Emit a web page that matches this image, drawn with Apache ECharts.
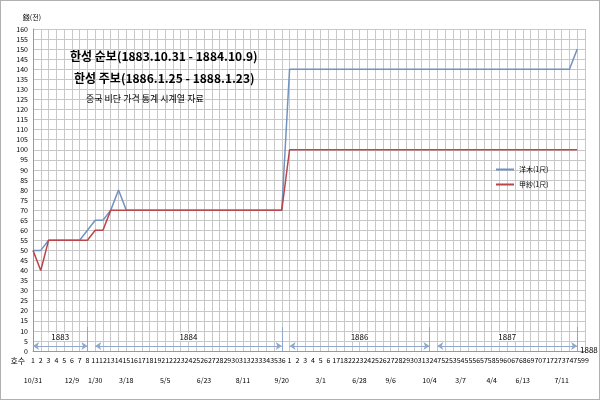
<!DOCTYPE html>
<html>
<head>
<meta charset="utf-8">
<script src="https://cdn.jsdelivr.net/npm/echarts@6/dist/echarts.min.js"></script>
<style>
	html,body{margin:0;padding:0;background:#fff;}
	#chart{width:598px;height:398px;border:1px solid #b0b0b0;}
</style>
</head>
<body>
<div id="chart"></div>
<script>
	// issue numbers (호수)
	var issues = ['1','2','3','4','5','6','7','8','11','12','13','14','15','16','17','18','19','21','22','23','24','25','26','27','28','29','30','31','32','33','34','35','36',
		'1','2','3','4','5','6','17','18','22','23','24','25','26','27','28','29','30','31','32','47','52','53','54','55','56','57','58','59','60','67','68','69','70','71','72','73','74','75','99'];
	var dateLabels = {0:'10/31',5:'12/9',8:'1/30',12:'3/18',17:'5/5',22:'6/23',27:'8/11',32:'9/20',37:'3/1',42:'6/28',46:'9/6',51:'10/4',55:'3/7',59:'4/4',63:'6/13',68:'7/11',72:'1/23'};
	var cotton = [50,50,55,55,55,55,55,60,65,65,70,80,70,70,70,70,70,70,70,70,70,70,70,70,70,70,70,70,70,70,70,70,70,
		140,140,140,140,140,140,140,140,140,140,140,140,140,140,140,140,140,140,140,140,140,140,140,140,140,140,140,140,140,140,140,140,140,140,140,140,140,150];
	var gapsa = [50,40,55,55,55,55,55,55,60,60,70,70,70,70,70,70,70,70,70,70,70,70,70,70,70,70,70,70,70,70,70,70,70,
		100,100,100,100,100,100,100,100,100,100,100,100,100,100,100,100,100,100,100,100,100,100,100,100,100,100,100,100,100,100,100,100,100,100,100,100,100,100];
	var years = [['1883',0,7],['1884',8,32],['1886',33,51],['1887',52,70]];
	var dividers = [7,32,51,70];

	var yearLines = [];
	years.forEach(function(y){
		yearLines.push([{coord:[y[1],2.5],symbol:'arrow'},{coord:[y[2],2.5],symbol:'arrow',label:{show:true,formatter:y[0]}}]);
	});
	dividers.forEach(function(d){
		yearLines.push([{coord:[d,0],symbol:'none'},{coord:[d,12],symbol:'none',label:{show:false}}]);
	});

	var chart = echarts.init(document.getElementById('chart'));
	chart.setOption({
		animation:false,
		textStyle:{fontFamily:'Noto Sans CJK KR'},
		title:[
			{text:'한성 순보(1883.10.31 - 1884.10.9)',left:64,top:44,textStyle:{fontSize:12,fontWeight:'bold',color:'#000'}},
			{text:'한성 주보(1886.1.25 - 1888.1.23)',left:68,top:66,textStyle:{fontSize:12,fontWeight:'bold',color:'#000'}},
			{text:'중국 비단 가격 통계 시계열 자료',left:80,top:88,textStyle:{fontSize:9,fontWeight:'normal',color:'#000'}},
			{text:'1888',left:574,top:340,textStyle:{fontSize:8,fontWeight:'normal',color:'#000'}}
		],
		legend:{orient:'vertical',left:490,top:160,itemWidth:18,itemHeight:2,itemGap:8,icon:'rect',
			textStyle:{fontSize:7,color:'#000'},data:['洋木(1尺)','甲紗(1尺)']},
		grid:{left:32,right:14,top:28,bottom:48},
		xAxis:[{
			type:'category',data:issues,boundaryGap:false,
			name:'호수',nameLocation:'start',nameGap:6,nameTextStyle:{fontSize:8,color:'#000',verticalAlign:'top',padding:[6,0,0,0]},
			axisLine:{lineStyle:{color:'#999'}},axisTick:{show:false},
			axisLabel:{interval:0,fontSize:7,color:'#000',margin:6,hideOverlap:false},
			splitLine:{show:true,interval:0,lineStyle:{color:'#c8c8c8'}}
		},{
			type:'category',data:issues,boundaryGap:false,position:'bottom',offset:18,
			axisLine:{show:false},axisTick:{show:false},
			axisLabel:{interval:0,fontSize:7,color:'#000',hideOverlap:false,showMaxLabel:true,showMinLabel:true,
				formatter:function(v,i){return dateLabels[i]||'';}}
		}],
		yAxis:{
			type:'value',min:0,max:160,interval:5,
			name:'錢(전)',nameGap:8,nameTextStyle:{fontSize:7,color:'#000',align:'right',padding:[0,-8,0,0]},
			axisLine:{show:true,lineStyle:{color:'#999'}},axisTick:{show:false},
			axisLabel:{fontSize:7,color:'#000',margin:5},
			splitLine:{lineStyle:{color:'#c8c8c8'}}
		},
		series:[{
			name:'洋木(1尺)',type:'line',data:cotton,symbol:'none',
			lineStyle:{color:'#7393bf',width:1.5},itemStyle:{color:'#7393bf'},
			markLine:{silent:true,symbolSize:6,lineStyle:{color:'#8fa8cc',type:'solid',width:1},
				label:{position:'middle',fontSize:8,color:'#000',backgroundColor:'#fff',padding:[0,3]},
				data:yearLines}
		},{
			name:'甲紗(1尺)',type:'line',data:gapsa,symbol:'none',
			lineStyle:{color:'#b9464a',width:1.5},itemStyle:{color:'#b9464a'}
		}]
	});
</script>
</body>
</html>
